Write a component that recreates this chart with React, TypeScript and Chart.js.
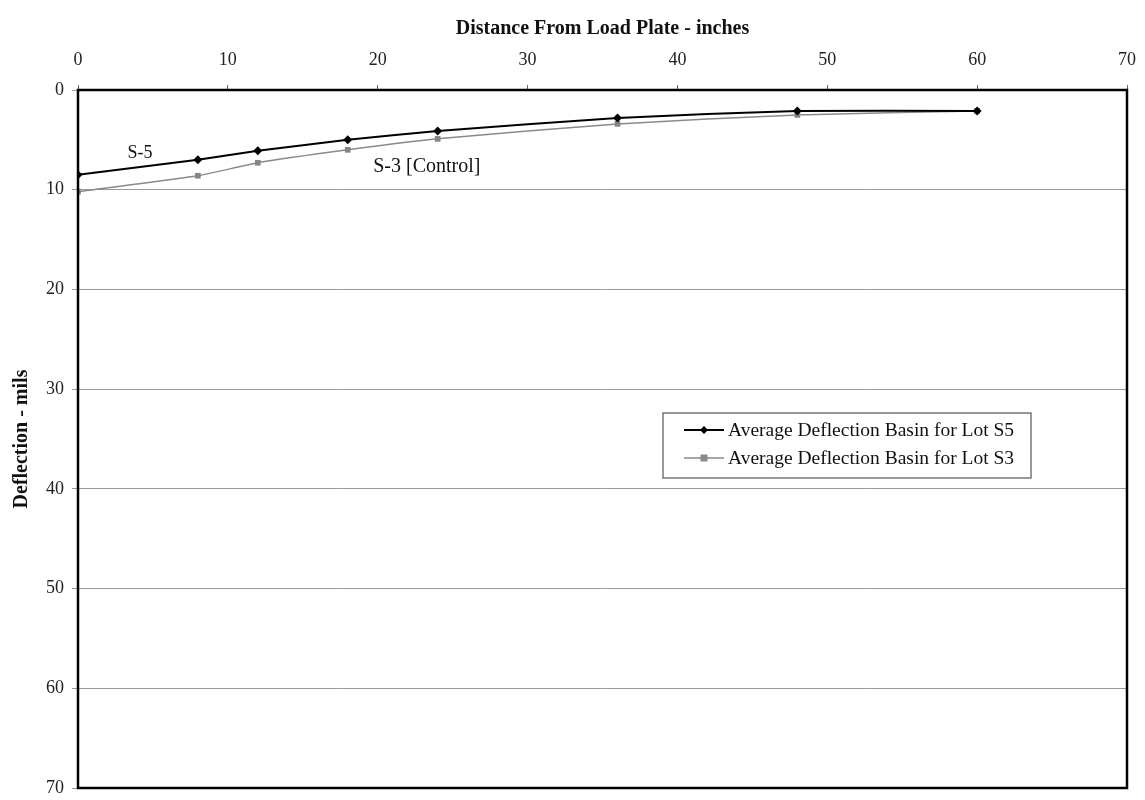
import React, { useEffect, useRef } from "react";
import { Chart, registerables } from "chart.js";

Chart.register(...registerables);

const distances = [0, 8, 12, 18, 24, 36, 48, 60];
const lotS5 = [8.5, 7.0, 6.1, 5.0, 4.1, 2.8, 2.1, 2.1];
const lotS3 = [10.2, 8.6, 7.3, 6.0, 4.9, 3.4, 2.5, 2.1];
const seriesNames = ["Average Deflection Basin for Lot S5", "Average Deflection Basin for Lot S3"];
const xTitle = "Distance From Load Plate - inches";
const yTitle = "Deflection - mils";
const notes = [
  { text: "S-5", x: 3.3, y: 6.3, size: 18 },
  { text: "S-3 [Control]", x: 19.7, y: 7.7, size: 20 },
];

const FONT = "'Liberation Serif', 'Times New Roman', serif";

export default function App() {
  const ref = useRef<HTMLCanvasElement | null>(null);
  useEffect(() => {
    if (!ref.current) return;
    const overlay = {
      id: "overlay",
      afterDraw(chart: any) {
        const { ctx, chartArea, scales } = chart;
        ctx.save();
        ctx.strokeStyle = "#000";
        ctx.lineWidth = 2.5;
        ctx.strokeRect(chartArea.left, chartArea.top, chartArea.right - chartArea.left, chartArea.bottom - chartArea.top);
        ctx.fillStyle = "#111";
        ctx.textBaseline = "middle";
        ctx.textAlign = "left";
        for (const n of notes) {
          ctx.font = `${n.size}px ${FONT}`;
          ctx.fillText(n.text, scales.x.getPixelForValue(n.x), scales.y.getPixelForValue(n.y));
        }
        // legend
        const lx = 663, ly = 413, lw = 368, lh = 65;
        ctx.fillStyle = "#fff";
        ctx.fillRect(lx, ly, lw, lh);
        ctx.strokeStyle = "#555";
        ctx.lineWidth = 1.2;
        ctx.strokeRect(lx, ly, lw, lh);
        const rows = [
          { name: seriesNames[0], color: "#000", lwid: 2, pt: "diamond" },
          { name: seriesNames[1], color: "#8a8a8a", lwid: 1.5, pt: "square" },
        ];
        rows.forEach((r, i) => {
          const cy = ly + 17 + i * 28;
          ctx.strokeStyle = r.color;
          ctx.lineWidth = r.lwid;
          ctx.beginPath();
          ctx.moveTo(lx + 21, cy);
          ctx.lineTo(lx + 61, cy);
          ctx.stroke();
          ctx.fillStyle = r.color;
          const cx = lx + 41;
          if (r.pt === "diamond") {
            ctx.beginPath();
            ctx.moveTo(cx, cy - 4);
            ctx.lineTo(cx + 4, cy);
            ctx.lineTo(cx, cy + 4);
            ctx.lineTo(cx - 4, cy);
            ctx.closePath();
            ctx.fill();
          } else {
            ctx.fillRect(cx - 3.5, cy - 3.5, 7, 7);
          }
          ctx.fillStyle = "#111";
          ctx.font = `19.5px ${FONT}`;
          ctx.textAlign = "left";
          ctx.fillText(r.name, lx + 65, cy + 1);
        });
        ctx.restore();
      },
    };
    const chart = new Chart(ref.current, {
      type: "scatter",
      data: {
        datasets: [
          {
            label: seriesNames[0],
            data: distances.map((d, i) => ({ x: d, y: lotS5[i] })),
            showLine: true,
            borderColor: "#000",
            backgroundColor: "#000",
            borderWidth: 2,
            pointStyle: "rectRot",
            pointRadius: 4.5,
            pointBorderWidth: 0,
            tension: 0.15,
          },
          {
            label: seriesNames[1],
            data: distances.map((d, i) => ({ x: d, y: lotS3[i] })),
            showLine: true,
            borderColor: "#8a8a8a",
            backgroundColor: "#858585",
            borderWidth: 1.5,
            pointStyle: "rect",
            pointRadius: 4,
            pointBorderWidth: 0,
            tension: 0.15,
          },
        ],
      },
      options: {
        animation: false,
        responsive: false,
        layout: { padding: { left: 0, right: 18, top: 0, bottom: 12 } },
        plugins: { legend: { display: false }, tooltip: { enabled: false } },
        scales: {
          x: {
            type: "linear",
            position: "top",
            min: 0,
            max: 70,
            ticks: { stepSize: 10, color: "#222", font: { family: FONT, size: 18 }, padding: 14 },
            grid: { drawOnChartArea: false, drawTicks: true, tickLength: 5, color: "#666" },
            border: { display: false },
            title: {
              display: true,
              text: xTitle,
              color: "#111",
              font: { family: FONT, size: 20, weight: "bold" },
              padding: { top: 17, bottom: 4 },
            },
            afterFit(scale: any) {
              scale.height = 90;
              scale.paddingLeft = 0;
              scale.paddingRight = 0;
            },
          },
          y: {
            type: "linear",
            reverse: true,
            min: 0,
            max: 70,
            ticks: { stepSize: 10, color: "#222", font: { family: FONT, size: 18 }, padding: 8 },
            grid: { color: "#9a9a9a", lineWidth: 1, tickLength: 6, drawTicks: true },
            border: { display: false },
            title: {
              display: true,
              text: yTitle,
              color: "#111",
              font: { family: FONT, size: 20, weight: "bold" },
              padding: { top: 10, bottom: 2 },
            },
            afterFit(scale: any) {
              scale.width = 78;
              scale.paddingTop = 0;
              scale.paddingBottom = 0;
            },
          },
        },
      },
      plugins: [overlay],
    });
    return () => chart.destroy();
  }, []);
  return (
    <div style={{ position: "absolute", left: 0, top: 0, width: 1145, height: 800, background: "#fff" }}>
      <canvas ref={ref} width={1145} height={800} style={{ display: "block" }} />
    </div>
  );
}
